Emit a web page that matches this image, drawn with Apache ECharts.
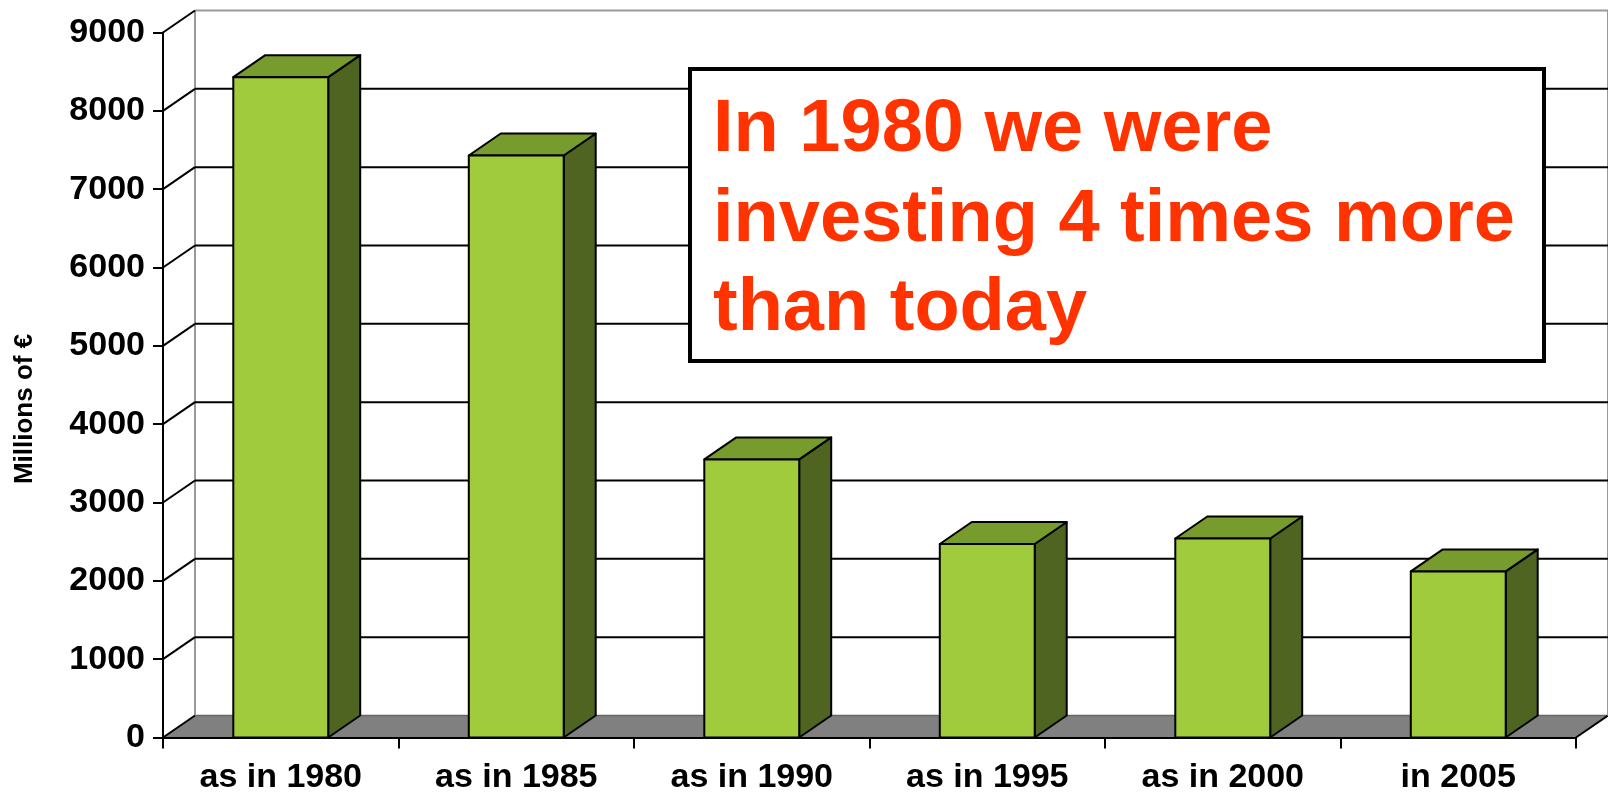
<!DOCTYPE html>
<html>
<head>
<meta charset="utf-8">
<script src="https://cdn.jsdelivr.net/npm/echarts@6/dist/echarts.min.js"></script>
<style>
  html, body { margin: 0; padding: 0; background: #fff; }
  #main { width: 1608px; height: 794px; }
</style>
</head>
<body>
<div id="main"></div>
<script>
// chart data
var categories = ['as in 1980', 'as in 1985', 'as in 1990', 'as in 1995', 'as in 2000', 'in 2005'];
var investment = [8430, 7430, 3550, 2470, 2540, 2120];
var yTicks = [0, 1000, 2000, 3000, 4000, 5000, 6000, 7000, 8000, 9000];
var noteLines = ['In 1980 we were', 'investing 4 times more', 'than today'];

// 3d depth offset
var DX = 32, DY = -22;
var FONT = '"Liberation Sans", Arial, sans-serif';

var myChart = echarts.init(document.getElementById('main'));

// back wall, side wall gridlines and the floor
function renderWalls(params, api) {
    var cs = params.coordSys;
    var v = api.value(1);
    var y = api.coord([0, v])[1];
    var left = cs.x, right = cs.x + cs.width;
    var isTop = v === yTicks[yTicks.length - 1];
    var children = [];
    if (v === 0) {
        children.push({
            type: 'polygon',
            shape: { points: [[left, y], [right, y], [right + DX, y + DY], [left + DX, y + DY]] },
            style: { fill: '#808080', stroke: null }
        });
        children.push({
            type: 'line',
            shape: { x1: left + DX, y1: y + DY, x2: right + DX, y2: y + DY },
            style: { stroke: '#666', lineWidth: 1.5 }
        });
        children.push({
            type: 'line',
            shape: { x1: right, y1: y, x2: right + DX, y2: y + DY },
            style: { stroke: '#000', lineWidth: 2 }
        });
        // wall edges
        children.push({
            type: 'line',
            shape: { x1: left + DX, y1: cs.y + DY, x2: left + DX, y2: y + DY },
            style: { stroke: '#999', lineWidth: 2 }
        });
        children.push({
            type: 'line',
            shape: { x1: right + DX, y1: cs.y + DY, x2: right + DX, y2: y + DY },
            style: { stroke: '#999', lineWidth: 2 }
        });
    } else {
        children.push({
            type: 'line',
            shape: { x1: left + DX, y1: y + DY, x2: right + DX, y2: y + DY },
            style: { stroke: isTop ? '#999' : '#000', lineWidth: 2 }
        });
    }
    children.push({
        type: 'line',
        shape: { x1: left, y1: y, x2: left + DX, y2: y + DY },
        style: { stroke: '#000', lineWidth: 2 }
    });
    return { type: 'group', children: children };
}

function renderBar(params, api) {
    var idx = api.value(0);
    var top = api.coord([idx, api.value(1)]);
    var base = api.coord([idx, 0]);
    var w = api.size([1, 0])[0] * 0.403;
    var x0 = top[0] - w / 2, x1 = top[0] + w / 2;
    var yt = top[1], yb = base[1];
    var line = { stroke: '#000', lineWidth: 2, lineJoin: 'round' };
    return {
        type: 'group',
        children: [
            {
                type: 'polygon',
                shape: { points: [[x1, yt], [x1 + DX, yt + DY], [x1 + DX, yb + DY], [x1, yb]] },
                style: Object.assign({ fill: '#4F6421' }, line)
            },
            {
                type: 'polygon',
                shape: { points: [[x0, yt], [x1, yt], [x1 + DX, yt + DY], [x0 + DX, yt + DY]] },
                style: Object.assign({ fill: '#789B2E' }, line)
            },
            {
                type: 'rect',
                shape: { x: x0, y: yt, width: w, height: yb - yt },
                style: Object.assign({ fill: '#A0CB3C' }, line)
            }
        ]
    };
}

var noteText = noteLines.map(function (t, i) {
    return {
        type: 'text',
        left: 713,
        top: 94 + i * 89.5,
        z: 20,
        style: {
            text: t,
            fill: '#FF3300',
            font: 'bold 74px ' + FONT
        }
    };
});

var option = {
    animation: false,
    backgroundColor: '#fff',
    grid: { left: 163, right: 32, top: 32.5, bottom: 56.5, outerBoundsMode: 'none' },
    xAxis: {
        type: 'category',
        data: categories,
        z: 10,
        axisLine: { lineStyle: { color: '#000', width: 2 } },
        axisTick: { show: true, length: 11, lineStyle: { color: '#000', width: 2 } },
        axisLabel: {
            color: '#000', fontSize: 34, fontWeight: 'bold', fontFamily: FONT, margin: 23, interval: 0
        },
        splitLine: { show: false }
    },
    yAxis: {
        type: 'value',
        min: 0,
        max: 9000,
        interval: 1000,
        z: 10,
        name: 'Millions of €',
        nameLocation: 'middle',
        nameRotate: 90,
        nameGap: 125,
        nameTextStyle: {
            color: '#000', fontSize: 26, fontWeight: 'bold', fontFamily: FONT,
            padding: [0, 48, 0, 0]
        },
        axisLine: { show: true, lineStyle: { color: '#000', width: 2 } },
        axisTick: { show: true, length: 10, lineStyle: { color: '#000', width: 2 } },
        axisLabel: {
            color: '#000', fontSize: 34, fontWeight: 'bold', fontFamily: FONT, margin: 18,
            formatter: function (v) { return String(v); }
        },
        splitLine: { show: false }
    },
    graphic: [
        {
            type: 'rect',
            left: 688,
            top: 67,
            z: 19,
            shape: { width: 854, height: 292 },
            style: { fill: '#fff', stroke: '#000', lineWidth: 4 }
        }
    ].concat(noteText),
    series: [
        {
            type: 'custom',
            z: 1,
            silent: true,
            renderItem: renderWalls,
            data: yTicks.map(function (v) { return [0, v]; })
        },
        {
            type: 'custom',
            z: 3,
            renderItem: renderBar,
            data: investment.map(function (v, i) { return [i, v]; })
        }
    ]
};

myChart.setOption(option);
window.onresize = function () {
    myChart.resize();
};
</script>
</body>
</html>
